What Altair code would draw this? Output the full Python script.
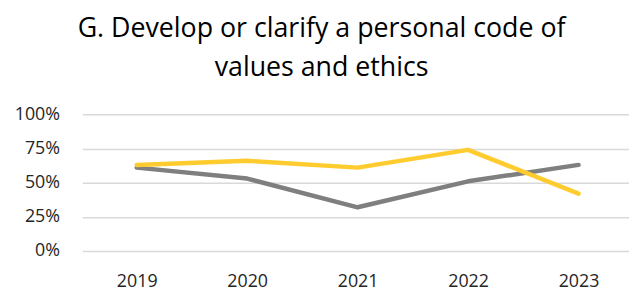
import altair as alt
import pandas as pd

years = [2019, 2020, 2021, 2022, 2023]
series_gray = [0.61, 0.53, 0.32, 0.51, 0.63]
series_yellow = [0.63, 0.66, 0.61, 0.74, 0.42]
series_names = ["Series 1", "Series 2"]
series_colors = ["#7F7F7F", "#FFCC2F"]

rows = []
for name, vals in zip(series_names, [series_gray, series_yellow]):
    for y, v in zip(years, vals):
        rows.append({"year": y, "value": v, "series": name})
df = pd.DataFrame(rows)

chart = alt.Chart(df).mark_line(strokeWidth=4.5, strokeCap="round", strokeJoin="round").encode(
    x=alt.X("year:Q",
            scale=alt.Scale(domain=[2018.507, 2023.457], nice=False, zero=False),
            axis=alt.Axis(values=years, format="d", title=None, grid=False, domain=False,
                          ticks=False, labelFontSize=18, labelColor="#262626", labelPadding=22,
                          labelFont="Open Sans")),
    y=alt.Y("value:Q",
            scale=alt.Scale(domain=[0, 1], nice=False),
            axis=alt.Axis(values=[0, 0.25, 0.5, 0.75, 1.0], format=".0%", title=None,
                          domain=False, ticks=False, gridColor="#D9D9D9", gridWidth=1.5,
                          labelFontSize=18, labelColor="#262626", labelPadding=23,
                          labelFont="Open Sans")),
    color=alt.Color("series:N", scale=alt.Scale(domain=series_names, range=series_colors), legend=None),
    order=alt.Order("series:N"),
).properties(
    width=552,
    height=138,
    title=alt.TitleParams(
        text=["G. Develop or clarify a personal code of", "values and ethics"],
        fontSize=27, font="Open Sans", fontWeight="normal", color="#000000",
        anchor="middle", frame="bounds", lineHeight=39, offset=24,
    ),
    padding={"top": 6, "left": 6, "right": 0, "bottom": 0},
).configure_view(stroke=None)

chart.save("out.html", embed_options={"renderer": "svg", "actions": False})
